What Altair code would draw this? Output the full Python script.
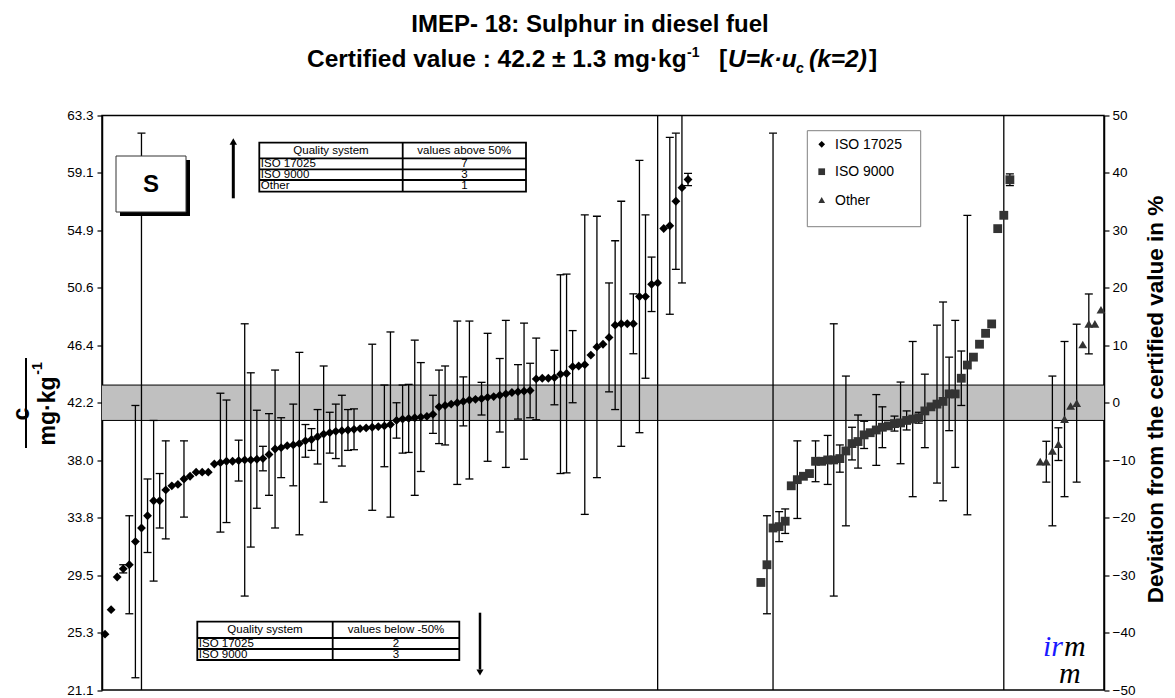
import altair as alt
import pandas as pd

FONT = "Liberation Sans"

TITLE = "IMEP- 18: Sulphur in diesel fuel"
CERT_VALUE = 42.2
CERT_U = 1.3

group_names = ["ISO 17025", "ISO 9000", "Other"]
group_colors = ["#000000", "#333333", "#333333"]
group_shapes = ["diamond", "square", "triangle-up"]
group_start_slot = [0, 108, 154]
n_slots = 165

iso17025_values = [
    25.2, 27.0, 29.4, 30.0, 30.3, 32.0, 33.0, 33.9, 35.0, 35.0,
    35.8, 36.1, 36.2, 36.6, 36.8, 37.1, 37.1, 37.1, 37.7, 37.8,
    37.9, 37.9, 37.95, 38.0, 38.0, 38.05, 38.1, 38.4, 38.8, 38.9,
    39.05, 39.1, 39.2, 39.4, 39.5, 39.7, 39.9, 40.0, 40.1, 40.15,
    40.2, 40.25, 40.3, 40.35, 40.4, 40.45, 40.5, 40.6, 40.9, 41.0,
    41.05, 41.1, 41.15, 41.2, 41.35, 41.9, 42.0, 42.1, 42.2, 42.3,
    42.4, 42.45, 42.5, 42.6, 42.65, 42.75, 42.85, 42.95, 43.0, 43.05,
    43.1, 43.95, 44.0, 44.0, 44.05, 44.3, 44.35, 44.85, 44.9, 45.0,
    45.7, 46.3, 46.5, 47.0, 47.9, 48.0, 48.0, 48.0, 50.0, 50.0,
    50.9, 51.0, 55.0, 55.2, 57.0, 58.0, 58.6]
iso17025_unc = [
    0, 0, 0, 0.3, 3.6, 10, 29, 2.7, 5.9, 2.0,
    3.6, 0, 0, 2.8, 0, 0, 0, 0, 0, 5.1,
    4.5, 0, 1.5, 10, 6.4, 3.6, 0.9, 3.0, 5.8, 2.2,
    0, 3.0, 6.7, 1.2, 0.8, 2.0, 5.0, 1.5, 2.0, 2.6,
    1.5, 1.5, 0, 0, 6.1, 0, 3.0, 6.8, 1.3, 2.5,
    2.5, 5.7, 4.0, 0, 1.4, 2.7, 2.9, 0, 6.0, 1.8,
    5.8, 0, 1.2, 4.7, 0, 2.7, 5.4, 0, 2.0, 5.0,
    2.0, 3.0, 0, 0, 2.0, 7.3, 7.3, 2.65, 0, 11.0,
    0, 9.6, 0, 4.0, 6.2, 9.0, 0, 2.2, 10.0, 6.0,
    2.0, 35, 0, 6.5, 5.0, 7.0, 0.45]

iso9000_values = [
    29.0, 30.3, 33.0, 33.1, 33.5, 36.1, 36.55, 36.8, 37.0, 37.9,
    37.9, 38.0, 38.0, 38.1, 38.66, 39.2, 39.35, 39.84, 40.0, 40.2,
    40.4, 40.5, 40.67, 40.72, 40.9, 41.0, 41.1, 41.6, 41.9, 42.1,
    42.3, 42.85, 42.85, 44.0, 44.97, 45.55, 46.5, 47.3, 47.99, 54.99,
    55.97, 58.58]
iso9000_unc = [
    0, 3.6, 29, 1.1, 0.9, 0, 2.85, 0, 0, 1.5,
    0, 1.8, 10, 1.0, 5.5, 1.2, 1.95, 1.0, 0, 2.6,
    1.5, 0, 0.55, 3.0, 0.7, 5.7, 0.4, 2.7, 0, 5.8,
    7.3, 2.7, 5.4, 2.0, 11.0, 0, 0, 0, 0, 0,
    35, 0.43]

other_values = [37.87, 37.87, 38.66, 39.16, 41.0, 41.96, 42.17, 46.48, 47.99, 47.99, 49.03]
other_unc = [0, 1.5, 5.5, 1.2, 5.7, 0, 5.8, 0, 2.2, 0, 0]

left_ticks = [round(CERT_VALUE * (0.5 + 0.1 * i), 3) for i in range(11)]
right_ticks = list(range(-50, 51, 10))

above_header = ["Quality system", "values above 50%"]
above_rows = [("ISO 17025", 7), ("ISO 9000", 3), ("Other", 1)]
below_header = ["Quality system", "values below -50%"]
below_rows = [("ISO 17025", 2), ("ISO 9000", 3)]

# ---------------- data tables ----------------
rows = []
for g, vals, uncs, start in zip(group_names,
                                [iso17025_values, iso9000_values, other_values],
                                [iso17025_unc, iso9000_unc, other_unc],
                                group_start_slot):
    for i, (v, u) in enumerate(zip(vals, uncs)):
        rows.append(dict(group=g, idx=start + i + 0.5, v=v, u=u, lo=v - u, hi=v + u))
pts = pd.DataFrame(rows)
bars = pts[pts.u > 0]
caps = pd.concat([bars.assign(cap=bars.lo), bars.assign(cap=bars.hi)])
band = pd.DataFrame([dict(x0=0, x1=n_slots, lo=CERT_VALUE - CERT_U, hi=CERT_VALUE + CERT_U)])
one = pd.DataFrame({"a": [0]})

W, H = 1002, 574.5
xs = alt.Scale(domain=[0, n_slots], nice=False, zero=False)
ys = alt.Scale(domain=[left_ticks[0], left_ticks[-1]], nice=False, zero=False)
yaxis = alt.Axis(values=left_ticks, format=".1f", orient="left", title=None, grid=False,
                 tickSize=5, tickColor="black", tickWidth=1.2, domainColor="black",
                 domainWidth=1.5, labelFont=FONT, labelFontSize=13.5, labelColor="black",
                 labelPadding=4)


def X(f):
    return alt.X(f, scale=xs, axis=None)


def Y(f):
    return alt.Y(f, scale=ys, axis=yaxis)


layers = []
layers.append(alt.Chart(band).mark_rect(color="#C0C0C0").encode(
    x=X("x0:Q"), x2="x1:Q", y=Y("lo:Q"), y2="hi:Q"))
for f in ["lo", "hi"]:
    layers.append(alt.Chart(band).mark_rule(color="black", strokeWidth=1).encode(
        x=X("x0:Q"), x2="x1:Q", y=Y(f + ":Q")))
layers.append(alt.Chart(bars).mark_rule(color="black", strokeWidth=1.3, clip=True).encode(
    x=X("idx:Q"), y=Y("lo:Q"), y2="hi:Q"))
layers.append(alt.Chart(caps).mark_rule(color="black", strokeWidth=1.3, clip=True,
                                        xOffset=-4, x2Offset=4).encode(
    x=X("idx:Q"), x2="idx:Q", y=Y("cap:Q")))
layers.append(alt.Chart(pts).mark_point(filled=True, opacity=1, size=78).encode(
    x=X("idx:Q"), y=Y("v:Q"),
    shape=alt.Shape("group:N", scale=alt.Scale(domain=group_names, range=group_shapes), legend=None),
    color=alt.Color("group:N", scale=alt.Scale(domain=group_names, range=group_colors), legend=None)))


def txt(s, x, y, size=13.5, weight="normal", style="normal", align="left",
        baseline="middle", angle=0, color="black", font=FONT):
    return alt.Chart(one).mark_text(text=s, fontSize=size, fontWeight=weight, fontStyle=style,
                                    align=align, baseline=baseline, angle=angle, color=color,
                                    font=font).encode(x=alt.value(x), y=alt.value(y))


def rule(x1, y1, x2, y2, w=1.5, color="black"):
    return alt.Chart(one).mark_rule(color=color, strokeWidth=w).encode(
        x=alt.value(x1), y=alt.value(y1), x2=alt.value(x2), y2=alt.value(y2))


def rect(x1, y1, x2, y2, fill="white", stroke="black", w=1.0):
    kw = dict(fill=fill)
    if stroke:
        kw.update(stroke=stroke, strokeWidth=w)
    return alt.Chart(one).mark_rect(**kw).encode(
        x=alt.value(x1), y=alt.value(y1), x2=alt.value(x2), y2=alt.value(y2))


def sym(shape, x, y, size, color="black"):
    return alt.Chart(one).mark_point(shape=shape, filled=True, opacity=1, size=size,
                                     color=color).encode(x=alt.value(x), y=alt.value(y))


# S box
layers.append(rect(18, 44.5, 88, 100.5, fill="black", stroke=None))
layers.append(rect(14, 40.5, 84, 96.5, fill="white", stroke="#333333", w=1))
layers.append(txt("S", 49, 69.5, size=24, weight="bold", align="center"))

# arrows
layers.append(rule(131.3, 82.8, 131.3, 28, w=3))
layers.append(sym("triangle-up", 131.3, 26, 55))
layers.append(rule(378, 497.2, 378, 554, w=2.5))
layers.append(sym("triangle-down", 378, 557, 50))


def table(x0, xm, x1, ys_, header, body, fs=11.5):
    out = [rect(x0, ys_[0], x1, ys_[-1], fill="white", stroke="black", w=1.8)]
    for yy in ys_[1:-1]:
        out.append(rule(x0, yy, x1, yy, w=1.8))
    out.append(rule(xm, ys_[0], xm, ys_[-1], w=1.8))
    hy = (ys_[0] + ys_[1]) / 2 + 0.5
    out.append(txt(header[0], (x0 + xm) / 2, hy, size=fs, align="center"))
    out.append(txt(header[1], (xm + x1) / 2, hy, size=fs, align="center"))
    for i, (name, cnt) in enumerate(body):
        ry = (ys_[i + 1] + ys_[i + 2]) / 2 + 0.5
        out.append(txt(name, x0 + 1.5, ry, size=fs))
        out.append(txt(str(cnt), (xm + x1) / 2, ry, size=fs, align="center"))
    return out


layers += table(157.3, 300.7, 424, [27.2, 42.8, 53.8, 64.5, 76.2], above_header, above_rows)
layers += table(95.3, 230.7, 357.3, [506.2, 522.5, 533.5, 544.5], below_header, below_rows)

# legend
layers.append(rect(705.3, 15.2, 818.7, 111.2, fill="white", stroke="#808080", w=1))
for i, (g, shp, col) in enumerate(zip(group_names, group_shapes, group_colors)):
    yy = [28.8, 56.2, 84.5][i]
    layers.append(sym(shp, 719.7, yy, 45, color=col))
    layers.append(txt(g, 733, yy + 0.5, size=14))

# irmm logo
layers.append(txt("ir", 941, 540, size=30, style="italic", color="#1a1aff", font="Liberation Serif",
                  baseline="alphabetic"))
layers.append(txt("m", 962, 540, size=30, style="italic", font="Liberation Serif", baseline="alphabetic"))
layers.append(txt("m", 957, 567, size=30, style="italic", font="Liberation Serif", baseline="alphabetic"))

# titles
layers.append(txt(TITLE, 488, -83.5, size=24, weight="bold", align="center", baseline="alphabetic"))
S0 = 205
sub_main = f"Certified value : {CERT_VALUE} \u00b1 {CERT_U} mg\u00b7kg"
layers.append(txt(sub_main, S0, -48.5, size=24.5, weight="bold", baseline="alphabetic"))
layers.append(txt("-1", S0 + 380, -58.5, size=14, weight="bold", baseline="alphabetic"))
layers.append(txt("[", S0 + 412, -48.5, size=24.5, weight="bold", baseline="alphabetic"))
layers.append(txt("U=k\u00b7u", S0 + 421, -48.5, size=24.5, weight="bold", style="italic", baseline="alphabetic"))
layers.append(txt("c", S0 + 489, -42.5, size=14, weight="bold", style="italic", baseline="alphabetic"))
layers.append(txt("(k=2)", S0 + 502, -48.5, size=24.5, weight="bold", style="italic", baseline="alphabetic"))
layers.append(txt("]", S0 + 562, -48.5, size=24.5, weight="bold", baseline="alphabetic"))

# left axis title (fraction)
layers.append(txt("c", -80, 298.5, size=23, weight="bold", align="center", angle=270))
layers.append(rule(-76, 242.5, -76, 332.5, w=2))
layers.append(txt("mg\u00b7kg", -54.5, 295.5, size=23, weight="bold", align="center", angle=270))
layers.append(txt("-1", -64, 253, size=14, weight="bold", align="center", angle=270))

# right axis title
layers.append(txt("Deviation from the certified value in %", 1054, 284, size=22.5, weight="bold",
                  align="center", angle=270))

main = alt.layer(*layers)

right = alt.Chart(pd.DataFrame({"p": [right_ticks[0], right_ticks[-1]]})).mark_point(opacity=0).encode(
    y=alt.Y("p:Q", scale=alt.Scale(domain=[right_ticks[0], right_ticks[-1]], nice=False, zero=False),
            axis=alt.Axis(orient="right", values=right_ticks, title=None, grid=False, tickSize=5,
                          tickColor="black", tickWidth=1.2, domainColor="black", domainWidth=1.5,
                          labelFont=FONT, labelFontSize=13.5, labelColor="black", labelPadding=3)))

chart = alt.layer(main, right).resolve_scale(y="independent").properties(
    width=W, height=H,
    padding={"left": 94, "top": 107.5, "right": 63, "bottom": 8},
    autosize=alt.AutoSizeParams(type="none"),
    background="white",
).configure_view(stroke="black", strokeWidth=1.5)

chart.save("out.html", embed_options={"renderer": "svg", "actions": False})
